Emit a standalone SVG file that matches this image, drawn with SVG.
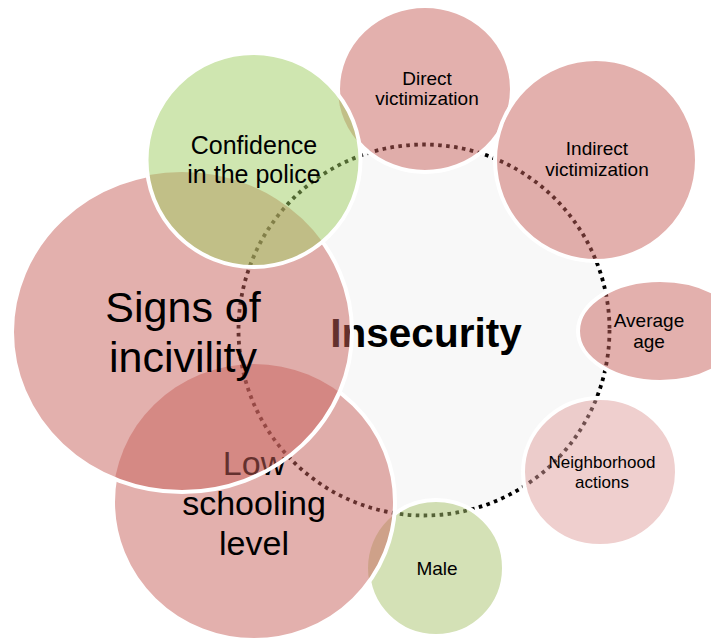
<svg xmlns="http://www.w3.org/2000/svg" width="711" height="641" viewBox="0 0 711 641">
<style>
text{font-family:"Liberation Sans",Arial,sans-serif;fill:#000;text-anchor:middle}
.red{fill:#c7615b;fill-opacity:.5}
.pink{fill:#df9f9d;fill-opacity:.5}
.green{fill:#9fcd61;fill-opacity:.5}
.olive{fill:#a9c36d;fill-opacity:.5}
.ring{fill:none;stroke:#fff;stroke-width:4}
.s19{font-size:19px}
</style>
<defs>
<mask id="mDirect" maskUnits="userSpaceOnUse" x="0" y="0" width="711" height="641">
<rect width="711" height="641" fill="#fff"/>
<circle cx="596" cy="160" r="101" fill="#000"/>
<circle cx="253.5" cy="160" r="107" fill="#000"/>
</mask>
<mask id="mMale" maskUnits="userSpaceOnUse" x="0" y="0" width="711" height="641">
<rect width="711" height="641" fill="#fff"/>
<ellipse cx="254" cy="502" rx="141" ry="138" fill="#000"/>
</mask>
<mask id="mLow" maskUnits="userSpaceOnUse" x="0" y="0" width="711" height="641">
<rect width="711" height="641" fill="#fff"/>
<ellipse cx="182" cy="332" rx="170" ry="160" fill="#000"/>
</mask>
<mask id="mSigns" maskUnits="userSpaceOnUse" x="0" y="0" width="711" height="641">
<rect width="711" height="641" fill="#fff"/>
<circle cx="253.5" cy="160" r="107" fill="#000"/>
</mask>
</defs>
<rect width="711" height="641" fill="#fff"/>
<g id="insecurity">
<circle cx="424" cy="330" r="186" fill="#f8f8f8"/>
<g id="connectors">
<circle cx="424" cy="330" r="185.5" fill="none" stroke="#000" stroke-width="3.8" stroke-dasharray="3.6 4.4"/>
</g>
<text x="426" y="347" font-size="40.5" font-weight="bold">Insecurity</text>
</g>
<g id="direct">
<ellipse class="red" cx="425" cy="89" rx="87" ry="83"/>
<ellipse class="ring" cx="425" cy="89" rx="87" ry="83" mask="url(#mDirect)"/>
<text class="s19" x="427" y="85">Direct</text>
<text class="s19" x="427" y="105">victimization</text>
</g>
<g id="indirect">
<circle class="red" cx="596" cy="160" r="101"/>
<circle class="ring" cx="596" cy="160" r="101"/>
<text class="s19" x="597" y="155">Indirect</text>
<text class="s19" x="597" y="176">victimization</text>
</g>
<g id="average">
<ellipse class="red" cx="660" cy="331" rx="82" ry="51"/>
<ellipse class="ring" cx="660" cy="331" rx="82" ry="51"/>
<text class="s19" x="649" y="327">Average</text>
<text class="s19" x="649" y="348">age</text>
</g>
<g id="neighborhood">
<ellipse class="pink" cx="600" cy="472" rx="77" ry="74"/>
<ellipse class="ring" cx="600" cy="472" rx="77" ry="74"/>
<text x="602" y="468" font-size="17">Neighborhood</text>
<text x="602" y="488" font-size="17">actions</text>
</g>
<g id="male">
<circle class="olive" cx="436" cy="568" r="68"/>
<circle class="ring" cx="436" cy="568" r="68" mask="url(#mMale)"/>
<text class="s19" x="437" y="575">Male</text>
</g>
<g id="low">
<ellipse class="red" cx="254" cy="502" rx="141" ry="138"/>
<ellipse class="ring" cx="254" cy="502" rx="141" ry="138" mask="url(#mLow)"/>
<text x="254" y="475" font-size="34">Low</text>
<text x="254" y="515" font-size="34">schooling</text>
<text x="254" y="555" font-size="34">level</text>
</g>
<g id="signs">
<ellipse class="red" cx="182" cy="332" rx="170" ry="160"/>
<ellipse class="ring" cx="182" cy="332" rx="170" ry="160" mask="url(#mSigns)"/>
<text x="183" y="322" font-size="43">Signs of</text>
<text x="183" y="372" font-size="43">incivility</text>
</g>
<g id="confidence">
<circle class="green" cx="253.5" cy="160" r="107"/>
<circle class="ring" cx="253.5" cy="160" r="107"/>
<text x="254" y="154" font-size="25">Confidence</text>
<text x="254" y="183" font-size="25">in the police</text>
</g>
</svg>
